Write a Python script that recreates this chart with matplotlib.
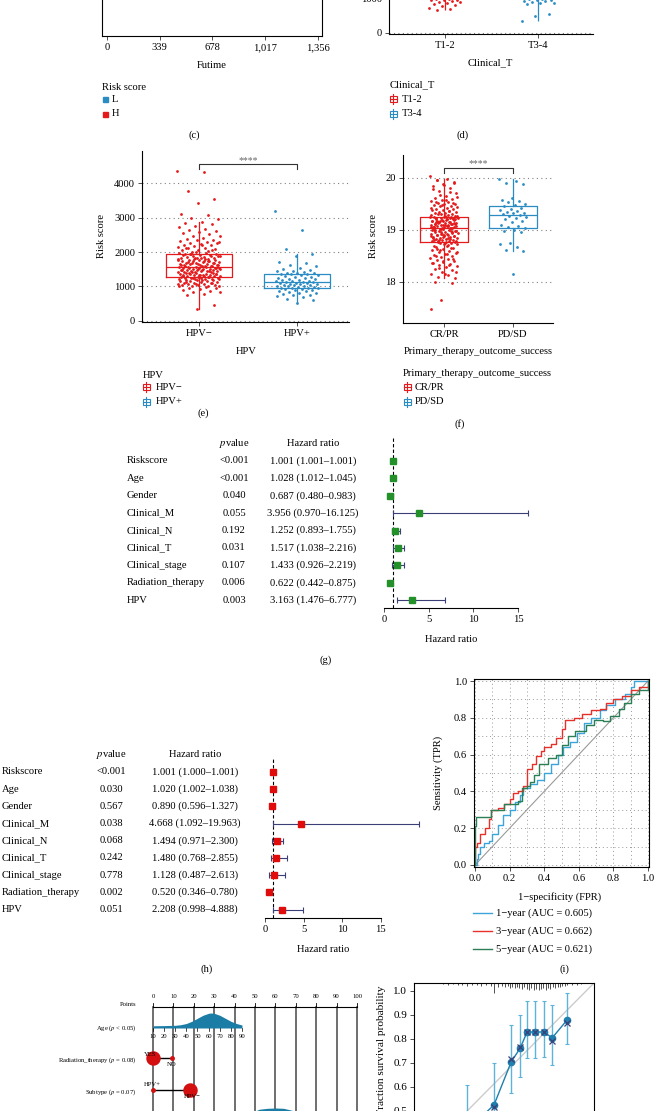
import numpy as np
import matplotlib
matplotlib.use("Agg")
import matplotlib.pyplot as plt
import matplotlib.transforms as mtransforms
from matplotlib.patches import Rectangle

plt.rcParams["font.family"] = ["Liberation Serif", "DejaVu Serif"]
plt.rcParams["mathtext.fontset"] = "stix"

# ---------------- data ----------------
futime_ticks = [0, 339, 678, 1017, 1356]
futime_labels = ["0", "339", "678", "1,017", "1,356"]

# panel d (only the lower part is visible in the crop)
t12_vals = [995, 985, 970, 955, 945, 930, 915, 900, 880, 860, 840, 800, 760, 720, 690, 650]
t34_vals = [995, 980, 965, 950, 935, 920, 905, 890, 870, 850, 830, 540, 490, 340]
t12_whisker_low = 650
t34_whisker_low = 340

hpv_neg = [4350, 4310, 3770, 3530, 3420, 3110, 3060, 2990, 2950, 2880, 2850, 2800, 2760,
           2720, 2680, 2640, 2610, 2580, 2540, 2510, 2470, 2450, 2420, 2390, 2360, 2340, 2310,
           2290, 2270, 2250, 2230, 2210, 2190, 2170, 2150, 2130, 2110, 2090, 2070, 2050, 2030,
           2010, 2280, 2200, 2120, 2060,
           1990, 1980, 1965, 1950, 1940, 1925, 1910, 1900, 1890, 1875, 1860, 1850, 1840, 1830,
           1815, 1805, 1955, 1885, 1825, 1935, 1870, 1812,
           1795, 1785, 1775, 1765, 1755, 1745, 1735, 1725, 1715, 1705, 1695, 1685, 1675, 1665,
           1655, 1645, 1635, 1625, 1615, 1605, 1790, 1760, 1730, 1700, 1670, 1640, 1610, 1750,
           1680, 1620,
           1595, 1588, 1580, 1572, 1565, 1557, 1550, 1542, 1535, 1527, 1520, 1512, 1505, 1497,
           1490, 1482, 1475, 1467, 1460, 1452, 1445, 1437, 1430, 1422, 1415, 1407, 1585, 1560,
           1530, 1500, 1470, 1440, 1410, 1545, 1485,
           1395, 1388, 1380, 1372, 1365, 1357, 1350, 1342, 1335, 1327, 1320, 1312, 1305, 1297,
           1290, 1282, 1275, 1267, 1260, 1252, 1245, 1237, 1230, 1222, 1215, 1207, 1385, 1355,
           1325, 1295, 1265, 1235, 1205, 1340,
           1195, 1185, 1175, 1165, 1155, 1145, 1135, 1125, 1115, 1105, 1095, 1085, 1075, 1065,
           1055, 1045, 1035, 1025, 1015, 1005, 1180, 1140, 1100, 1060, 1020,
           990, 970, 950, 930, 905, 880, 850, 830, 790, 760, 460, 350]
hpv_pos = [3180, 2640, 2080, 1950, 1870, 1720, 1680, 1610, 1580, 1550, 1520, 1490, 1460, 1440,
           1420, 1400, 1395, 1385, 1370, 1360, 1350, 1335, 1320, 1300, 1285, 1270, 1250, 1235,
           1220, 1205, 1190, 1180, 1170, 1160, 1150, 1140, 1130, 1120, 1110, 1100, 1090, 1080,
           1070, 1060, 1050, 1040, 1030, 1020, 1010, 1000, 990, 980, 970, 960, 955, 945, 935,
           920, 905, 890, 875, 860, 840, 820, 800, 780, 760, 740, 720, 690, 650, 600, 520]

cr_pr = [20.03, 19.97, 19.95, 19.90, 19.88, 19.85, 19.80, 19.74, 19.70, 19.66, 19.62, 19.60,
         19.57, 19.55, 19.53, 19.52, 19.50, 19.49, 19.48, 19.46, 19.45, 19.44, 19.42, 19.41,
         19.40, 19.39, 19.38, 19.36, 19.35, 19.34, 19.33, 19.32, 19.31, 19.30, 19.29, 19.28,
         19.96, 19.92, 19.86, 19.78, 19.72, 19.68, 19.64, 19.58, 19.54, 19.51, 19.47, 19.43,
         19.37, 19.30,
         19.27, 19.26, 19.25, 19.24, 19.23, 19.22, 19.21, 19.20, 19.19, 19.18, 19.17, 19.16,
         19.15, 19.14, 19.13, 19.12, 19.11, 19.10, 19.09, 19.08, 19.07, 19.06, 19.05, 19.04,
         19.03, 19.02, 19.265, 19.245, 19.225, 19.205, 19.185, 19.165, 19.145, 19.125, 19.105,
         19.085, 19.065, 19.045, 19.025, 19.255, 19.215, 19.175, 19.135, 19.095, 19.055,
         19.235, 19.155, 19.075, 19.195, 19.115, 19.035, 19.03, 19.05, 19.10, 19.15, 19.20,
         19.25, 19.06, 19.12, 19.18, 19.24, 19.08, 19.16, 19.22,
         19.01, 19.00, 18.99, 18.98, 18.97, 18.96, 18.95, 18.94, 18.93, 18.92, 18.91, 18.90,
         18.89, 18.88, 18.87, 18.86, 18.85, 18.84, 18.83, 18.82, 18.81, 18.80, 18.79, 18.78,
         18.77, 18.76, 18.75, 19.005, 18.985, 18.965, 18.945, 18.925, 18.905, 18.885, 18.865,
         18.845, 18.825, 18.805, 18.785, 18.765, 18.995, 18.955, 18.915, 18.875, 18.835,
         18.795, 18.975, 18.895, 18.815, 18.755,
         18.74, 18.72, 18.70, 18.68, 18.66, 18.64, 18.62, 18.60, 18.58, 18.56, 18.54, 18.52,
         18.50, 18.48, 18.46, 18.44, 18.42, 18.40, 18.38, 18.36, 18.34, 18.32, 18.30, 18.28,
         18.25, 18.22, 18.19, 18.16, 18.13, 18.10, 18.08, 18.73, 18.69, 18.65, 18.61, 18.57,
         18.53, 18.49, 18.45, 18.41, 18.37, 18.33, 18.27, 18.20, 18.15, 18.00, 17.98, 17.65,
         17.48, 18.71, 18.63]
pd_sd = [19.97, 19.94, 19.90, 19.88, 19.62, 19.58, 19.55, 19.53, 19.50, 19.47, 19.45, 19.42,
         19.40, 19.38, 19.36, 19.34, 19.33, 19.32, 19.30, 19.28, 19.26, 19.24, 19.22, 19.20,
         19.18, 19.15, 19.10, 19.08, 19.05, 19.03, 19.00, 18.98, 18.95, 18.75, 18.72, 18.68,
         18.62, 18.60, 18.15]

variables = ["Riskscore", "Age", "Gender", "Clinical_M", "Clinical_N", "Clinical_T",
             "Clinical_stage", "Radiation_therapy", "HPV"]
uni_p = ["<0.001", "<0.001", "0.040", "0.055", "0.192", "0.031", "0.107", "0.006", "0.003"]
uni_hr = [1.001, 1.028, 0.687, 3.956, 1.252, 1.517, 1.433, 0.622, 3.163]
uni_lo = [1.001, 1.012, 0.480, 0.970, 0.893, 1.038, 0.926, 0.442, 1.476]
uni_hi = [1.001, 1.045, 0.983, 16.125, 1.755, 2.216, 2.219, 0.875, 6.777]
multi_p = ["<0.001", "0.030", "0.567", "0.038", "0.068", "0.242", "0.778", "0.002", "0.051"]
multi_hr = [1.001, 1.020, 0.890, 4.668, 1.494, 1.480, 1.128, 0.520, 2.208]
multi_lo = [1.000, 1.002, 0.596, 1.092, 0.971, 0.768, 0.487, 0.346, 0.998]
multi_hi = [1.001, 1.038, 1.327, 19.963, 2.300, 2.855, 2.613, 0.780, 4.888]

roc1_fpr = [0, 0.01, 0.02, 0.03, 0.05, 0.08, 0.10, 0.13, 0.16, 0.20, 0.23, 0.26, 0.28, 0.32,
            0.36, 0.40, 0.44, 0.48, 0.51, 0.55, 0.59, 0.63, 0.67, 0.72, 0.76, 0.81, 0.87, 0.90,
            0.92, 1.0]
roc1_tpr = [0, 0.03, 0.06, 0.10, 0.12, 0.13, 0.17, 0.22, 0.27, 0.30, 0.34, 0.38, 0.42, 0.44,
            0.46, 0.50, 0.55, 0.60, 0.64, 0.67, 0.72, 0.77, 0.80, 0.84, 0.87, 0.90, 0.93, 0.97,
            1.0, 1.0]
roc3_fpr = [0, 0, 0.01, 0.03, 0.06, 0.08, 0.09, 0.13, 0.17, 0.20, 0.22, 0.25, 0.28, 0.30,
            0.33, 0.35, 0.38, 0.40, 0.44, 0.47, 0.50, 0.52, 0.57, 0.62, 0.67, 0.72, 0.76, 0.80,
            0.85, 0.90, 0.95, 1.0]
roc3_tpr = [0, 0.10, 0.12, 0.17, 0.20, 0.25, 0.30, 0.31, 0.33, 0.36, 0.39, 0.40, 0.43, 0.52,
            0.55, 0.59, 0.62, 0.64, 0.66, 0.69, 0.74, 0.79, 0.80, 0.82, 0.84, 0.85, 0.88, 0.90,
            0.92, 0.95, 0.97, 1.0]
roc5_fpr = [0, 0, 0.005, 0.09, 0.17, 0.25, 0.27, 0.30, 0.32, 0.34, 0.37, 0.42, 0.47, 0.50,
            0.54, 0.58, 0.64, 0.69, 0.74, 0.78, 0.83, 0.86, 0.90, 0.95, 1.0]
roc5_tpr = [0, 0.21, 0.26, 0.30, 0.33, 0.35, 0.42, 0.43, 0.45, 0.49, 0.55, 0.58, 0.60, 0.65,
            0.70, 0.73, 0.76, 0.79, 0.78, 0.81, 0.85, 0.88, 0.93, 0.95, 1.0]
roc_labels = ["1−year (AUC = 0.605)", "3−year (AUC = 0.662)", "5−year (AUC = 0.621)"]

# nomogram
age_ticks = [10, 20, 30, 40, 50, 60, 70, 80, 90]
age_grid = [10, 20, 30, 35, 40, 45, 50, 55, 60, 62, 65, 70, 75, 80, 85, 90]
age_density = [0.15, 0.16, 0.18, 0.22, 0.30, 0.45, 0.65, 0.85, 0.98, 1.0, 0.98, 0.85, 0.65,
               0.45, 0.30, 0.20]
age_max_points = 43.6
radiation_points = {"YES": 0.0, "NO": 9.3}
subtype_points = {"HPV+": 0.0, "HPV−": 18.0}
total_grid = [44, 48, 52, 56, 60, 64, 68, 72, 76]
total_density = [0.55, 0.84, 0.96, 0.99, 1.0, 0.99, 0.93, 0.82, 0.57]

# calibration
cal_pred = [0.50, 0.613, 0.685, 0.723, 0.752, 0.786, 0.824, 0.857, 0.92]
cal_obs = [0.42, 0.525, 0.704, 0.762, 0.829, 0.829, 0.829, 0.804, 0.879]
cal_lo = [0.25, 0.36, 0.575, 0.64, 0.72, 0.72, 0.725, 0.69, 0.78]
cal_hi = [0.608, 0.70, 0.86, 0.90, 0.96, 0.96, 0.96, 0.94, 0.99]
cal_corr = [0.41, 0.515, 0.715, 0.765, 0.83, 0.83, 0.83, 0.79, 0.865]
rug_x = [0.40, 0.42, 0.44, 0.46, 0.48, 0.50, 0.52, 0.54, 0.56, 0.58, 0.60, 0.615, 0.63, 0.645,
         0.66, 0.67, 0.68, 0.69, 0.70, 0.71, 0.72, 0.73, 0.74, 0.75, 0.76, 0.77, 0.78, 0.79,
         0.80, 0.81, 0.82, 0.83, 0.84, 0.85, 0.86, 0.87, 0.88, 0.89, 0.90, 0.91, 0.92, 0.94,
         0.96, 0.98]
rug_len = [0.006, 0.008, 0.006, 0.010, 0.008, 0.012, 0.010, 0.008, 0.012, 0.010, 0.014, 0.040,
           0.016, 0.012, 0.018, 0.014, 0.020, 0.016, 0.022, 0.018, 0.020, 0.024, 0.018, 0.026,
           0.030, 0.022, 0.028, 0.024, 0.030, 0.026, 0.022, 0.028, 0.020, 0.024, 0.018, 0.020,
           0.016, 0.018, 0.014, 0.012, 0.010, 0.008, 0.008, 0.006]

# ---------------- style ----------------
RED = "#e41a1c"
BLUE = "#2b8cc4"
GREEN = "#23902a"
NAVY = "#3b3f78"
GRID = "#808080"
FS = 7.6

W, H = 654, 1111
fig = plt.figure(figsize=(W / 100, H / 100), dpi=100)


def box(left, top, right, bottom):
    return fig.add_axes([left / W, 1 - bottom / H, (right - left) / W, (bottom - top) / H],
                        facecolor="none")


def jitter(n, w):
    return (((np.arange(n) * 0.618034) % 1.0) - 0.5) * 2 * w


def style_ticks(ax):
    ax.tick_params(labelsize=FS, length=3, width=0.6, pad=2, color="#333")
    for s in ax.spines.values():
        s.set_linewidth(0.8)


ov = fig.add_axes([0, 0, 1, 1], facecolor="none")
ov.set_xlim(0, W)
ov.set_ylim(H, 0)
ov.axis("off")
ov.set_zorder(10)


def label(x, y, s, ha="center", size=FS, **kw):
    ov.text(x, y, s, ha=ha, va="center", fontsize=size, **kw)


def box_icon(x, y, color):
    ov.add_patch(Rectangle((x - 3.5, y - 3), 7, 6, fill=False, ec=color, lw=0.8))
    ov.plot([x - 3.5, x + 3.5], [y, y], color=color, lw=0.8)
    ov.plot([x, x], [y - 5, y + 5], color=color, lw=0.8)


def boxpanel(ax, groups, colors, width, jw):
    for k, (vals, c) in enumerate(zip(groups, colors)):
        ax.boxplot(vals, positions=[k + 1], widths=width, showfliers=False, showcaps=False,
                   boxprops=dict(color=c, lw=0.9), medianprops=dict(color=c, lw=0.9),
                   whiskerprops=dict(color=c, lw=0.9), manage_ticks=False)
        ax.scatter(k + 1 + jitter(len(vals), jw), vals, s=4, color=c, lw=0, zorder=3)
    ax.spines[["top", "right"]].set_visible(False)
    ax.yaxis.grid(True, ls=(0, (1, 3)), color=GRID, lw=0.8)
    ax.set_axisbelow(True)
    style_ticks(ax)


# ---------------- (c) bottom of survival plot ----------------
axc = box(102, -40, 322, 36)
axc.set_xlim(-32, 1382)
axc.set_xticks(futime_ticks, futime_labels)
axc.set_yticks([])
axc.spines["top"].set_visible(False)
style_ticks(axc)
label(212, 65, "Futime")
label(102, 87, "Risk score", ha="left")
ov.add_patch(Rectangle((102.5, 96.5), 5, 5, color=BLUE))
ov.add_patch(Rectangle((102.5, 111.5), 5, 5, color=RED))
label(112, 99, "L", ha="left")
label(112, 114, "H", ha="left")
label(194, 135, "(c)")

# ---------------- (d) bottom of Clinical_T boxplot ----------------
axd = box(389, -5.5, 593, 34.05)
axd.set_xlim(0.4, 2.59)
axd.set_ylim(-30, 1100)
axd.vlines(1, t12_whisker_low, 1100, color=RED, lw=0.9)
axd.vlines(2, t34_whisker_low, 1100, color=BLUE, lw=0.9)
axd.scatter(1 + jitter(len(t12_vals), 0.18), t12_vals, s=4, color=RED, lw=0, zorder=3)
axd.scatter(2 + jitter(len(t34_vals), 0.19), t34_vals, s=4, color=BLUE, lw=0, zorder=3)
axd.spines[["top", "right"]].set_visible(False)
axd.yaxis.grid(True, ls=(0, (1, 3)), color=GRID, lw=0.8)
axd.set_yticks([0, 1000])
axd.set_xticks([1, 2], ["T1-2", "T3-4"])
style_ticks(axd)
label(490, 63, "Clinical_T")
label(390, 85, "Clinical_T", ha="left")
box_icon(393, 99, RED)
box_icon(393, 114, BLUE)
label(402, 99, "T1-2", ha="left")
label(402, 114, "T3-4", ha="left")
label(463, 135, "(d)")

# ---------------- (e) HPV ----------------
axe = box(142, 151, 349, 322)
axe.set_xlim(0.42, 2.53)
axe.set_ylim(-30, 4930)
boxpanel(axe, [hpv_neg, hpv_pos], [RED, BLUE], 0.68, 0.22)
axe.set_yticks([0, 1000, 2000, 3000, 4000])
axe.set_xticks([1, 2], ["HPV−", "HPV+"])
axe.plot([1, 1, 2, 2], [4400, 4550, 4550, 4400], color="#333", lw=0.8)
axe.text(1.5, 4640, "****", ha="center", va="center", fontsize=7, color="#666")
label(102, 236, "Risk score", rotation=90)
label(246, 352, "HPV")
label(143, 375, "HPV", ha="left")
box_icon(146, 387, RED)
box_icon(146, 402, BLUE)
label(156, 387, "HPV−", ha="left")
label(156, 402, "HPV+", ha="left")
label(203, 413, "(e)")

# ---------------- (f) therapy outcome ----------------
axf = box(403, 155, 553, 323)
axf.set_xlim(0.406, 2.58)
axf.set_ylim(17.21, 20.44)
boxpanel(axf, [cr_pr, pd_sd], [RED, BLUE], 0.7, 0.2)
axf.set_yticks([18, 19, 20])
axf.set_xticks([1, 2], ["CR/PR", "PD/SD"])
axf.plot([1, 1, 2, 2], [20.1, 20.19, 20.19, 20.1], color="#333", lw=0.8)
axf.text(1.5, 20.27, "****", ha="center", va="center", fontsize=7, color="#666")
label(373, 236, "Risk score", rotation=90)
label(478, 352, "Primary_therapy_outcome_success")
label(403, 373, "Primary_therapy_outcome_success", ha="left")
box_icon(407, 387, RED)
box_icon(407, 402, BLUE)
label(415, 387, "CR/PR", ha="left")
label(415, 402, "PD/SD", ha="left")
label(460, 424, "(f)")


# ---------------- forest plots (g), (h) ----------------
def forest(ax, hr, lo, hi, pvals, color, xlim, ylim, x_name, x_p, x_hr):
    rows = np.arange(len(hr))
    hr, lo, hi = np.array(hr), np.array(lo), np.array(hi)
    ax.set_xlim(*xlim)
    ax.set_ylim(*ylim)
    ax.axvline(1, ls=(0, (3, 2)), color="k", lw=0.8, zorder=1)
    ax.errorbar(hr, rows, xerr=[hr - lo, hi - hr], fmt="s", color=color, ms=4.2,
                ecolor=NAVY, elinewidth=0.8, capsize=2, capthick=0.8, zorder=3)
    for s in ["top", "right", "left"]:
        ax.spines[s].set_visible(False)
    ax.spines["bottom"].set_bounds(0, 15)
    ax.set_yticks([])
    ax.set_xticks([0, 5, 10, 15])
    style_ticks(ax)
    tr = mtransforms.blended_transform_factory(ov.transData, ax.transData)
    ov.text(x_p, -1, "$p$value", ha="center", va="center", fontsize=FS, transform=tr)
    ov.text(x_hr, -1, "Hazard ratio", ha="center", va="center", fontsize=FS, transform=tr)
    for i, name in enumerate(variables):
        ov.text(x_name, i, name, ha="left", va="center", fontsize=FS, transform=tr)
        ov.text(x_p, i, pvals[i], ha="center", va="center", fontsize=FS, transform=tr)
        ov.text(x_hr, i, f"{hr[i]:.3f} ({lo[i]:.3f}–{hi[i]:.3f})", ha="center",
                va="center", fontsize=FS, transform=tr)


axg = box(379.5, 438, 536, 608)
forest(axg, uni_hr, uni_lo, uni_hi, uni_p, GREEN, (-0.5, 17), (8.45, -1.32), 127, 234, 313)
label(451, 639, "Hazard ratio")
label(326, 660, "(g)")

axh = box(261.15, 757, 426.7, 918)
forest(axh, multi_hr, multi_lo, multi_hi, multi_p, "#e00b0b", (-0.5, 21), (8.49, -0.87),
       2, 111, 195)
label(323, 949, "Hazard ratio")
label(207, 969, "(h)")

# ---------------- (i) ROC ----------------
axi = box(474, 679, 649, 867)
axi.set_xlim(-0.006, 1.006)
axi.set_ylim(-0.011, 1.011)
ticks = np.round(np.arange(0, 1.01, 0.2), 1)
minor = np.round(np.arange(0, 1.01, 0.1), 1)
axi.set_xticks(ticks, [f"{t:.1f}" for t in ticks])
axi.set_yticks(ticks, [f"{t:.1f}" for t in ticks])
axi.set_xticks(minor, minor=True)
axi.set_yticks(minor, minor=True)
axi.tick_params(which="minor", length=0)
axi.grid(which="both", ls=(0, (1, 3)), color="#999", lw=0.7)
axi.set_axisbelow(True)
axi.plot([0, 1], [0, 1], color="#9a9a9a", lw=0.8)
roc_colors = ["#3ba4d9", "#e8302a", "#2a7f55"]
for fpr, tpr, c in zip([roc1_fpr, roc3_fpr, roc5_fpr], [roc1_tpr, roc3_tpr, roc5_tpr], roc_colors):
    axi.plot(fpr, tpr, drawstyle="steps-post", color=c, lw=1.0)
style_ticks(axi)
label(438, 773, "Sensitivity (TPR)", rotation=90)
label(560, 897, "1−specificity (FPR)")
for k, (txt, c) in enumerate(zip(roc_labels, roc_colors)):
    y = 913 + 18 * k
    ov.plot([473, 492], [y, y], color=c, lw=1.0)
    label(496, y, txt, ha="left")
label(564, 969, "(i)")

# ---------------- nomogram (top part) ----------------
nom = box(0, 975, 400, 1111)
nom.set_xlim(-153 / 2.04, (400 - 153) / 2.04)
nom.set_ylim(1111, 975)
nom.axis("off")
NS = 4.8
for p in range(0, 101, 10):
    nom.plot([p, p], [1007, 1111], color="#555", lw=1.2, zorder=1)
    nom.plot([p, p], [1007, 1003], color="k", lw=0.6)
    nom.text(p, 997, str(p), ha="center", va="center", fontsize=NS)
nom.plot([0, 100], [1007, 1007], color="k", lw=0.8)
nom.text(-8, 1004, "Points", ha="right", va="center", fontsize=NS)

age_x = (np.array(age_grid) - 10) * age_max_points / 80
nom.fill_between(age_x, 1028 - 15 * np.array(age_density), 1028, color="#1b7da6", lw=0, zorder=2)
for a in age_ticks:
    ax_ = (a - 10) * age_max_points / 80
    nom.plot([ax_, ax_], [1028, 1031], color="k", lw=0.5, zorder=3)
    nom.text(ax_, 1036, str(a), ha="center", va="center", fontsize=NS, zorder=3)
nom.text(-8, 1028, "Age ($p$ < 0.05)", ha="right", va="center", fontsize=NS)

yes, no = radiation_points["YES"], radiation_points["NO"]
nom.plot([yes, no], [1058, 1058], color="k", lw=1.0, zorder=3)
nom.plot(yes, 1058, "o", color="#d40f0f", ms=9.4, zorder=4)
nom.plot(no, 1058, "o", color="#d40f0f", ms=2.5, zorder=4)
nom.text(yes - 1.5, 1054, "YES", ha="center", va="center", fontsize=NS, zorder=5)
nom.text(no, 1065, "NO", ha="center", va="center", fontsize=NS, zorder=5)
nom.text(-8, 1060, "Radiation_therapy ($p$ = 0.08)", ha="right", va="center", fontsize=NS)

hp, hn = subtype_points["HPV+"], subtype_points["HPV−"]
nom.plot([hp, hn], [1090, 1090], color="k", lw=1.0, zorder=3)
nom.plot(hp, 1090, "o", color="#d40f0f", ms=2.5, zorder=4)
nom.plot(hn, 1090, "o", color="#d40f0f", ms=9.4, zorder=4)
nom.text(hp - 0.5, 1085, "HPV+", ha="center", va="center", fontsize=NS, zorder=5)
nom.text(hn + 1, 1097, "HPV−", ha="center", va="center", fontsize=NS, zorder=5)
nom.text(-8, 1092, "Subtype ($p$ = 0.07)", ha="right", va="center", fontsize=NS)

nom.fill_between(total_grid, 1140 - 32 * np.array(total_density), 1140, color="#1b7da6",
                 lw=0, zorder=2)

# ---------------- calibration (top part) ----------------
axk = box(414, 983, 594, 1123)
axk.set_xlim(0.277, 1.033)
axk.set_ylim(0.45, 1.033)
axk.plot([0, 1.033], [0, 1.033], color="#cccccc", lw=1.0, zorder=1)
axk.vlines(rug_x, 1.033 - np.array(rug_len), 1.033, color="#333", lw=0.6)
obs = np.array(cal_obs)
axk.errorbar(cal_pred, obs, yerr=[obs - np.array(cal_lo), np.array(cal_hi) - obs], fmt="o-",
             color="#1f7fae", ms=4.5, lw=1.0, ecolor="#5db3da", elinewidth=1.0, capsize=1.5,
             capthick=0.8, zorder=3)
axk.plot(cal_pred, cal_corr, "x", color=NAVY, ms=5, mew=0.9, zorder=4)
axk.set_yticks([0.5, 0.6, 0.7, 0.8, 0.9, 1.0])
axk.set_xticks([])
style_ticks(axk)
axk.tick_params(labelsize=8)
label(382, 1050, "Fraction survival probability", rotation=90, size=8.2)

fig.savefig("out.png", dpi=100)
